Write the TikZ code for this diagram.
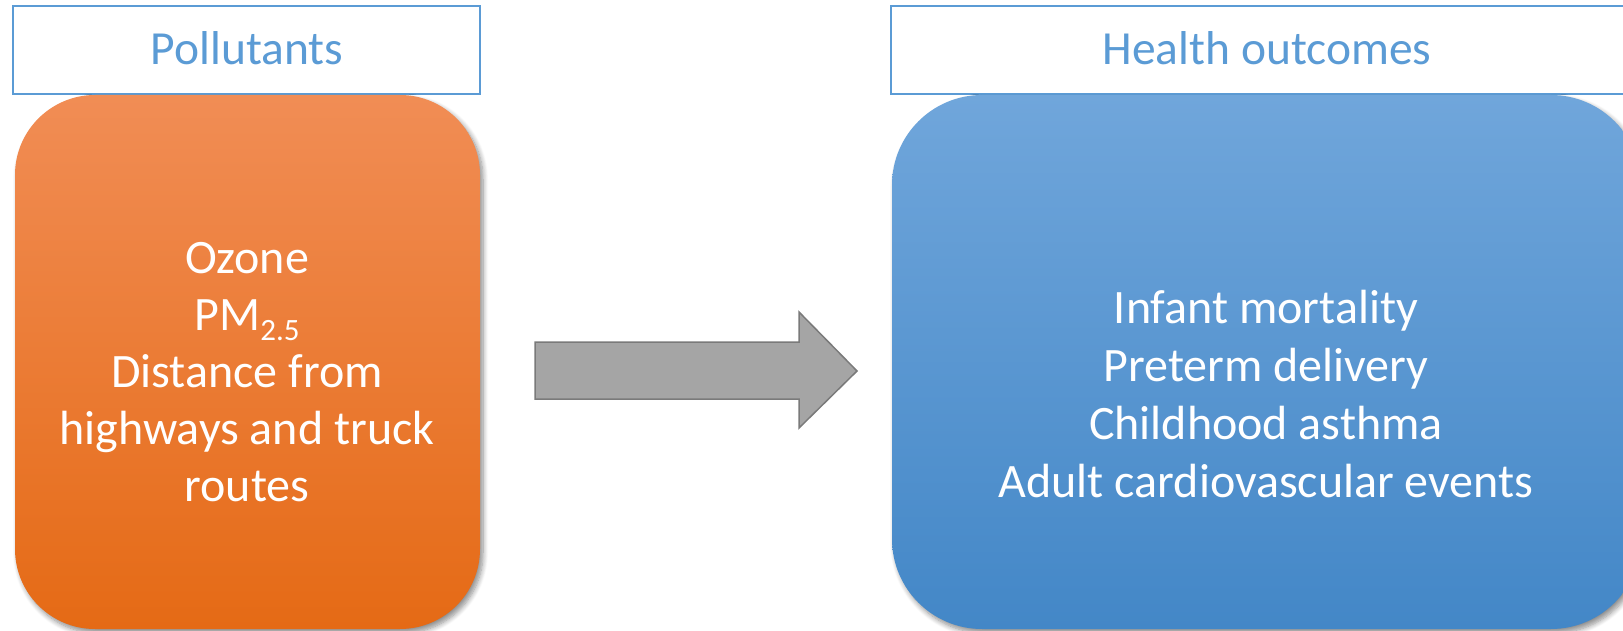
\documentclass[tikz,border=0pt]{standalone}
\usepackage{fontspec}
\setmainfont{Carlito}
\usetikzlibrary{shadows.blur}
\definecolor{hdrblue}{HTML}{5B9BD5}
\definecolor{orangetop}{HTML}{F18D55}
\definecolor{orangebot}{HTML}{E56A15}
\definecolor{bluetop}{HTML}{70A6DB}
\definecolor{bluebot}{HTML}{4387C7}
\definecolor{arrowfill}{HTML}{A5A5A5}
\definecolor{arrowline}{HTML}{7A7A7A}
\tikzset{
  header/.style={draw=hdrblue, line width=1.5pt, fill=white},
  headertext/.style={text=hdrblue, font=\fontsize{47.5}{55}\selectfont, anchor=base, inner sep=0pt},
  bodybox/.style={blur shadow={shadow xshift=3pt, shadow yshift=-4pt, shadow blur steps=8, shadow blur radius=5pt, shadow opacity=45}},
  bodytext/.style={text=white, align=center, anchor=north, inner sep=0pt}
}
\begin{document}
\begin{tikzpicture}[x=1pt,y=-1pt]
\useasboundingbox (0,0) rectangle (1623,631);
\clip (0,0) rectangle (1623,631);
% headers
\draw[header] (13,6) rectangle (480,94);
\node[headertext] (hpol) at (247,65) {Pollutants};
\draw[header] (891,6) rectangle (1650,94);
\node[headertext] (hhealth) at (1267,65) {Health outcomes};
% body boxes
\path[bodybox, rounded corners=80pt, top color=orangetop, bottom color=orangebot] (15,95) rectangle (480,629);
\node[bodytext, font=\fontsize{48}{57}\selectfont] (pol) at (247,233) {\rule{0pt}{40pt}Ozone\\PM\raisebox{-10pt}{\fontsize{31}{31}\selectfont 2.5}\\Distance from\\highways and truck\\routes};
\path[bodybox, rounded corners=90pt, top color=bluetop, bottom color=bluebot] (892,95) rectangle (1641,629);
\node[bodytext, font=\fontsize{48}{58}\selectfont] (health) at (1266,283) {\rule{0pt}{40pt}Infant mortality\\Preterm delivery\\Childhood asthma\\Adult cardiovascular events};
% arrow
\coordinate (a1) at (535,342);
\coordinate (a2) at (799,342);
\coordinate (a3) at (799,312);
\coordinate (tip) at (857,371);
\coordinate (a5) at (799,428);
\coordinate (a6) at (799,399);
\coordinate (a7) at (535,399);
\draw[fill=arrowfill, draw=arrowline, line width=1.5pt, line join=miter] (a1) -- (a2) -- (a3) -- (tip) -- (a5) -- (a6) -- (a7) -- cycle;
\end{tikzpicture}
\end{document}
